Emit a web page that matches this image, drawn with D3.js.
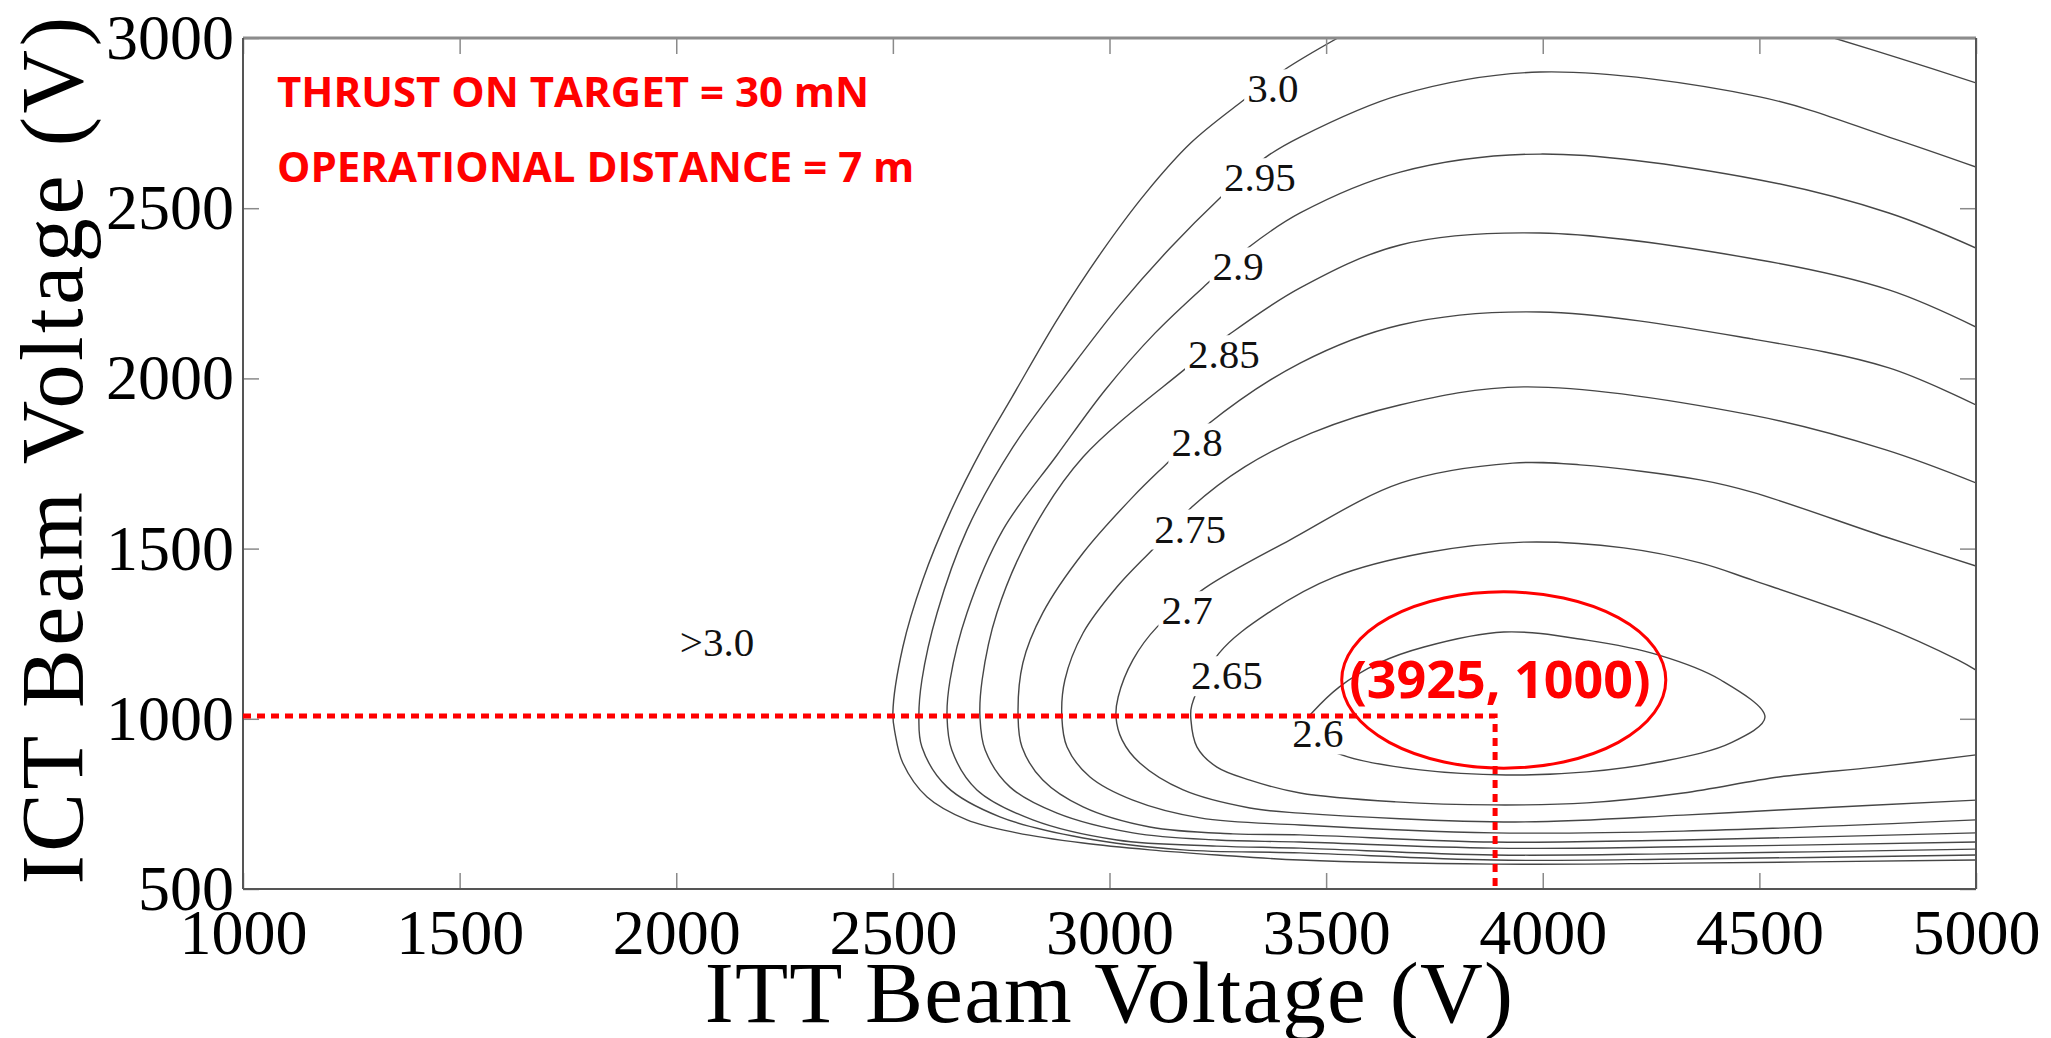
<!DOCTYPE html>
<html>
<head>
<meta charset="utf-8">
<script src="https://cdn.jsdelivr.net/npm/d3@7"></script>
<style>
  html, body { margin: 0; padding: 0; background: #fff; }
  svg { display: block; }
</style>
</head>
<body>
<div id="chart"></div>
<script>

// Axis ticks
var xTicks = [1000, 1500, 2000, 2500, 3000, 3500, 4000, 4500, 5000];
var yTicks = [500, 1000, 1500, 2000, 2500, 3000];

// Contour lines, points are [ITT V, ICT V]
var line300 = [[3527,3000],[3403,2906],[3301,2809],[3188,2692],[3084,2545],[2980,2368],[2879,2172],[2775,1945],[2708,1798],[2632,1605],[2569,1408],[2523,1211],[2500,1017],[2505,958],[2523,870],[2579,770],[2671,703],[2786,665],[2939,635],[3093,615],[3248,600],[3440,585],[3887,573],[4324,576],[5000,585]];
var line300b = [[4672,3000],[4822,2941],[5000,2868]];
var line295 = [[5000,2621],[4799,2709],[4501,2827],[3994,2900],[3671,2833],[3440,2709],[3361,2650],[3255,2530],[3140,2383],[3024,2216],[2904,2019],[2777,1798],[2671,1555],[2602,1311],[2567,1114],[2560,1005],[2567,917],[2625,800],[2747,712],[2939,650],[3170,615],[3440,606],[3887,585],[4324,588],[5000,600]];
var line290 = [[5000,2383],[4799,2486],[4501,2583],[3994,2659],[3671,2606],[3440,2486],[3322,2386],[3227,2280],[3105,2133],[2990,1966],[2879,1775],[2754,1555],[2671,1311],[2632,1114],[2625,1005],[2636,908],[2694,791],[2823,703],[3017,644],[3248,626],[3440,620],[3887,600],[4324,604],[5000,617]];
var line285 = [[5000,2151],[4799,2260],[4501,2348],[3994,2427],[3671,2392],[3440,2266],[3274,2127],[3172,2025],[2939,1769],[2823,1555],[2740,1311],[2706,1114],[2701,1005],[2713,908],[2770,800],[2879,723],[3054,665],[3248,644],[3440,638],[3887,620],[4324,624],[5000,638]];
var line280 = [[5000,1922],[4799,2031],[4483,2116],[3994,2195],[3671,2157],[3440,2045],[3225,1863],[3133,1751],[3054,1652],[2939,1487],[2846,1311],[2800,1164],[2789,1005],[2798,917],[2846,820],[2939,741],[3093,682],[3285,662],[3440,659],[3887,638],[4324,644],[5000,665]];
var line275 = [[5000,1693],[4792,1790],[4483,1892],[3956,1975],[3670,1922],[3467,1840],[3312,1740],[3190,1622],[3105,1505],[3017,1387],[2939,1252],[2897,1114],[2890,1005],[2902,917],[2955,829],[3054,761],[3209,709],[3440,688],[3887,665],[4324,670],[5000,703]];
var line270 = [[5000,1449],[4792,1534],[4483,1666],[4363,1702],[4086,1746],[3931,1751],[3673,1693],[3416,1525],[3220,1384],[3110,1270],[3054,1173],[3020,1064],[3015,1005],[3029,938],[3070,870],[3170,791],[3324,738],[3440,723],[3936,697],[4324,717],[4545,732],[5000,761]];
var line265 = [[5000,1143],[4958,1173],[4778,1276],[4483,1408],[4363,1458],[4187,1502],[3956,1519],[3726,1487],[3520,1417],[3366,1311],[3253,1193],[3190,1040],[3188,996],[3202,917],[3248,858],[3324,820],[3440,782],[3661,756],[3887,747],[4102,753],[4324,782],[4545,829],[4767,858],[5000,894]];
var line260 = [[3437,970],[3467,1017],[3530,1093],[3622,1164],[3726,1211],[3910,1255],[4102,1231],[4268,1187],[4411,1114],[4513,1005],[4434,929],[4268,873],[4102,844],[3915,835],[3717,850],[3550,888],[3463,938]];

var openLines = [line300, line300b, line295, line290, line285, line280, line275, line270, line265];
var closedLines = [line260];

// Inline contour labels
var labelText = ["3.0", "2.95", "2.9", "2.85", "2.8", "2.75", "2.7", "2.65", "2.6", ">3.0"];
var labelPos = [[3377,2853],[3347,2592],[3297,2330],[3264,2072],[3202,1813],[3186,1560],[3179,1320],[3271,1129],[3481,958],[2094,1226]];

// Red annotations
var optimum = [3890, 1008];
var optimumText = "(3925, 1000)";
var optimumTextPos = [3901, 1061];
var callout = [3910, 1114, 374, 259];   // cx, cy, rx, ry in volts
var notes = ["THRUST ON TARGET = 30 mN", "OPERATIONAL DISTANCE = 7 m"];

var iWidth = 2051, iHeight = 1038;
var oPlot = { iLeft: 243, iRight: 1976, iTop: 38, iBottom: 889 };
var sSerif = "'Liberation Serif', 'Times New Roman', serif";
var sSans = "'Open Sans', 'Noto Sans', sans-serif";

var x = d3.scaleLinear().domain([1000, 5000]).range([oPlot.iLeft, oPlot.iRight]);
var y = d3.scaleLinear().domain([500, 3000]).range([oPlot.iBottom, oPlot.iTop]);

var dSVG = d3.select("#chart").append("svg")
    .attr("width", iWidth)
    .attr("height", iHeight);

var dDefs = dSVG.append("defs");

dDefs.append("clipPath").attr("id", "plotClip")
    .append("rect")
    .attr("x", oPlot.iLeft).attr("y", oPlot.iTop)
    .attr("width", oPlot.iRight - oPlot.iLeft)
    .attr("height", oPlot.iBottom - oPlot.iTop);

var dMask = dDefs.append("mask").attr("id", "labelMask")
    .attr("maskUnits", "userSpaceOnUse")
    .attr("x", 0).attr("y", 0).attr("width", iWidth).attr("height", iHeight);
dMask.append("rect").attr("width", iWidth).attr("height", iHeight).attr("fill", "#fff");

// Contours
var line = d3.line().x(function(d) { return x(d[0]); }).y(function(d) { return y(d[1]); });

var dContours = dSVG.append("g")
    .attr("clip-path", "url(#plotClip)")
    .append("g")
    .attr("mask", "url(#labelMask)")
    .attr("fill", "none")
    .attr("stroke", "#464646")
    .attr("stroke-width", 1.4);

dContours.selectAll("path.open").data(openLines).enter().append("path")
    .attr("class", "open")
    .attr("d", line.curve(d3.curveCatmullRom.alpha(0.5)));

dContours.selectAll("path.closed").data(closedLines).enter().append("path")
    .attr("class", "closed")
    .attr("d", d3.line().x(function(d) { return x(d[0]); }).y(function(d) { return y(d[1]); })
        .curve(d3.curveCatmullRomClosed.alpha(0.5)));

// Labels on the contours, knocked out of the lines with the mask
var dLabels = dSVG.append("g")
    .attr("font-family", sSerif)
    .attr("font-size", 41)
    .attr("fill", "#111")
    .attr("text-anchor", "middle");

dLabels.selectAll("text").data(labelText).enter().append("text")
    .attr("x", function(d, i) { return x(labelPos[i][0]); })
    .attr("y", function(d, i) { return y(labelPos[i][1]); })
    .attr("dy", "0.35em")
    .text(function(d) { return d; })
    .each(function() {
        var b = this.getBBox();
        dMask.append("rect")
            .attr("x", b.x - 3).attr("y", b.y + 4)
            .attr("width", b.width + 6).attr("height", b.height - 6)
            .attr("fill", "#000");
    });

// Axes, ticks pointing inward on all four sides
function styleAxis(g) {
    g.select(".domain").remove();
    g.selectAll(".tick line").attr("stroke", "#8a8a8a").attr("stroke-width", 1.5);
    g.selectAll(".tick text").attr("font-family", sSerif).attr("font-size", 64).attr("fill", "#000");
}

dSVG.append("g")
    .attr("transform", "translate(0," + oPlot.iBottom + ")")
    .call(d3.axisBottom(x).tickValues(xTicks).tickSize(-16).tickPadding(20).tickFormat(d3.format("d")))
    .call(styleAxis);

dSVG.append("g")
    .attr("transform", "translate(" + oPlot.iLeft + ",0)")
    .call(d3.axisLeft(y).tickValues(yTicks).tickSize(-16).tickPadding(9).tickFormat(d3.format("d")))
    .call(styleAxis);

dSVG.append("g")
    .attr("transform", "translate(0," + oPlot.iTop + ")")
    .call(d3.axisTop(x).tickValues(xTicks).tickSize(-16).tickFormat(""))
    .call(styleAxis);

dSVG.append("g")
    .attr("transform", "translate(" + oPlot.iRight + ",0)")
    .call(d3.axisRight(y).tickValues(yTicks).tickSize(-16).tickFormat(""))
    .call(styleAxis);

// Frame
var dFrame = dSVG.append("g").attr("fill", "none");
dFrame.append("line").attr("x1", oPlot.iLeft).attr("x2", oPlot.iRight).attr("y1", oPlot.iTop).attr("y2", oPlot.iTop)
    .attr("stroke", "#8c8c8c").attr("stroke-width", 3);
dFrame.append("line").attr("x1", oPlot.iLeft).attr("x2", oPlot.iRight).attr("y1", oPlot.iBottom).attr("y2", oPlot.iBottom)
    .attr("stroke", "#555").attr("stroke-width", 2);
dFrame.append("line").attr("x1", oPlot.iLeft).attr("x2", oPlot.iLeft).attr("y1", oPlot.iTop).attr("y2", oPlot.iBottom)
    .attr("stroke", "#555").attr("stroke-width", 2);
dFrame.append("line").attr("x1", oPlot.iRight).attr("x2", oPlot.iRight).attr("y1", oPlot.iTop).attr("y2", oPlot.iBottom)
    .attr("stroke", "#555").attr("stroke-width", 2);

// Axis titles
dSVG.append("text")
    .attr("x", (oPlot.iLeft + oPlot.iRight) / 2)
    .attr("y", 1022)
    .attr("text-anchor", "middle")
    .attr("font-family", sSerif)
    .attr("font-size", 87)
    .attr("letter-spacing", 1.2)
    .text("ITT Beam Voltage (V)");

dSVG.append("text")
    .attr("transform", "translate(82," + 449 + ") rotate(-90)")
    .attr("text-anchor", "middle")
    .attr("font-family", sSerif)
    .attr("font-size", 88)
    .attr("letter-spacing", 3.6)
    .text("ICT Beam Voltage (V)");

// Red annotations
var dRed = dSVG.append("g");

dRed.append("path")
    .attr("d", line.curve(d3.curveLinear)([[1000, optimum[1]], optimum, [optimum[0], 500]]))
    .attr("fill", "none")
    .attr("stroke", "#ff0000")
    .attr("stroke-width", 5)
    .attr("stroke-dasharray", "8 6");

dRed.append("ellipse")
    .attr("cx", x(callout[0]))
    .attr("cy", y(callout[1]))
    .attr("rx", x(callout[0] + callout[2]) - x(callout[0]))
    .attr("ry", y(callout[1] - callout[3]) - y(callout[1]))
    .attr("fill", "none")
    .attr("stroke", "#ff0000")
    .attr("stroke-width", 3);

dRed.append("text")
    .attr("x", x(optimumTextPos[0]))
    .attr("y", y(optimumTextPos[1]))
    .attr("text-anchor", "middle")
    .attr("font-family", sSans)
    .attr("font-weight", 700)
    .attr("font-size", 52)
    .attr("fill", "#ff0000")
    .text(optimumText);

dRed.selectAll("text.note").data(notes).enter().append("text")
    .attr("class", "note")
    .attr("x", 277)
    .attr("y", function(d, i) { return 107 + i * 75; })
    .attr("font-family", sSans)
    .attr("font-weight", 700)
    .attr("font-size", 42)
    .attr("fill", "#ff0000")
    .text(function(d) { return d; });

</script>
</body>
</html>
